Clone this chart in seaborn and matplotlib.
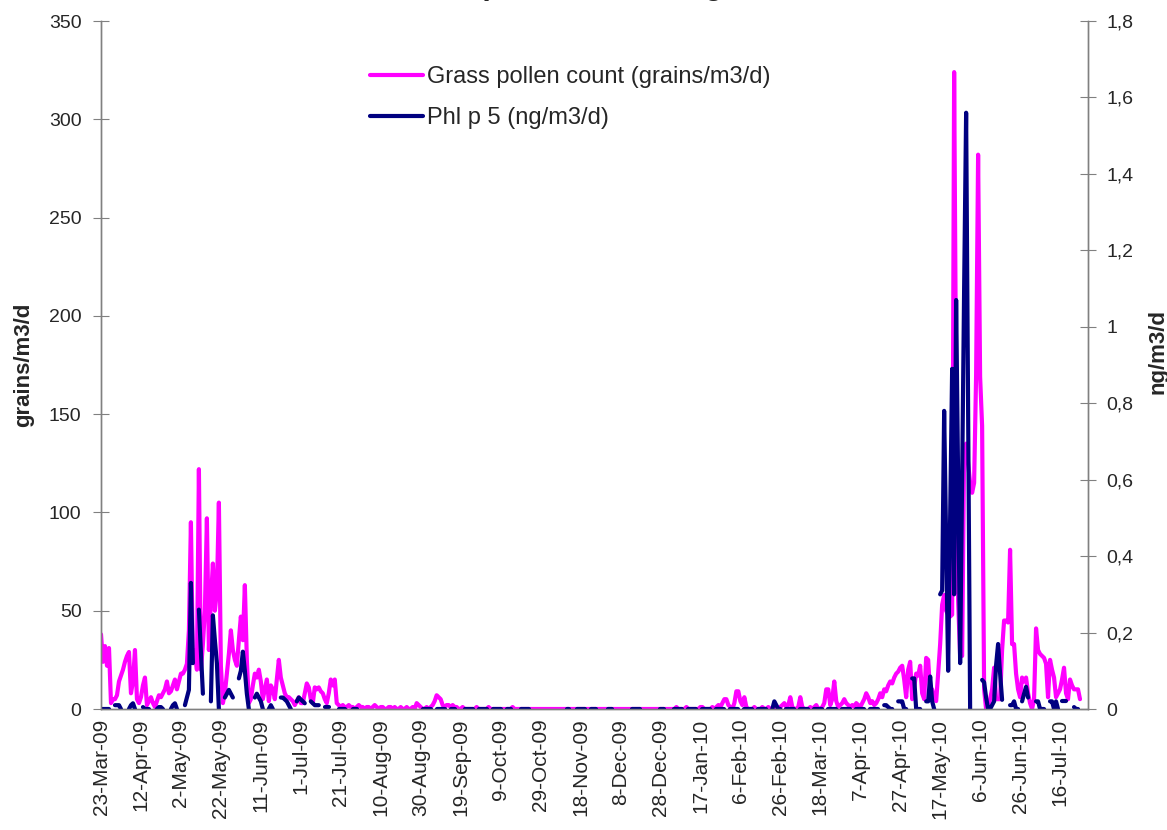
import numpy as np
import pandas as pd
import matplotlib
matplotlib.use("Agg")
import matplotlib.pyplot as plt
from matplotlib.lines import Line2D
import seaborn as sns

nan = np.nan

# daily series, first day 23-Mar-2009
start_date = "2009-03-23"

# grass pollen count (grains/m3/d), days 0-199
pollen_part1 = [
    38, 24, 32, 22, 31, 3, 5, 5, 7, 14,
    17, 20, 24, 27, 29, 8, 14, 30, 5, 3,
    6, 12, 16, 2, 4, 6, 3, 1, 4, 7,
    6, 8, 10, 14, 8, 9, 12, 15, 10, 14,
    18, 18, 20, 23, 40, 95, 24, 30, 20, 122,
    20, 33, 50, 97, 30, 55, 74, 50, 60, 105,
    22, 3, 8, 18, 28, 40, 30, 25, 22, 35,
    47, 35, 63, 25, 3, 5, 12, 18, 16, 20,
    14, 5, 10, 15, 4, 12, 10, 5, 15, 25,
    16, 12, 8, 6, 6, 5, 4, 2, 4, 6,
    3, 3, 8, 13, 11, 5, 3, 11, 10, 11,
    9, 8, 5, 3, 8, 15, 12, 15, 3, 2,
    1, 2, 1, 1, 2, 1, 1, 0, 1, 2,
    1, 1, 0, 1, 1, 0, 1, 2, 1, 0,
    1, 1, 0, 0, 1, 1, 0, 1, 0, 0,
    1, 0, 0, 1, 0, 0, 1, 0, 3, 2,
    1, 0, 0, 1, 0, 1, 2, 4, 7, 6,
    5, 2, 1, 2, 2, 1, 2, 1, 1, 0,
    0, 1, 0, 0, 0, 0, 0, 0, 1, 0,
    0, 0, 0, 0, 1, 0, 0, 0, 0, 0,
]

# grass pollen count (grains/m3/d), days 200-490
pollen_part2 = [
    0, 0, 0, 0, 0, 0, 1, 0, 0, 0,
    0, 0, 0, 0, 0, 0, 0, 0, 0, 0,
    0, 0, 0, 0, 0, 0, 0, 0, 0, 0,
    0, 0, 0, 0, 0, 0, 0, 0, 0, 0,
    0, 0, 0, 0, 0, 0, 0, 0, 0, 0,
    0, 0, 0, 0, 0, 0, 0, 0, 0, 0,
    0, 0, 0, 0, 0, 0, 0, 0, 0, 0,
    0, 0, 0, 0, 0, 0, 0, 0, 0, 0,
    0, 0, 0, 0, 0, 0, 0, 0, 1, 0,
    0, 0, 0, 1, 0, 0, 0, 0, 0, 0,
    1, 1, 0, 0, 0, 0, 1, 0, 1, 2,
    1, 3, 5, 5, 2, 1, 0, 3, 9, 9,
    4, 2, 6, 1, 0, 0, 0, 1, 0, 0,
    0, 1, 0, 0, 1, 0, 0, 0, 1, 0,
    1, 2, 3, 1, 2, 6, 1, 0, 0, 1,
    6, 1, 0, 0, 0, 1, 0, 1, 2, 0,
    0, 1, 3, 10, 10, 2, 5, 14, 4, 1,
    2, 3, 5, 3, 2, 1, 2, 1, 3, 2,
    1, 3, 5, 8, 6, 3, 4, 2, 3, 5,
    8, 6, 10, 9, 12, 14, 13, 16, 18, 19,
    21, 22, 15, 6, 20, 24, 5, 11, 18, 17,
    22, 8, 5, 26, 25, 8, 10, 6, 4, 18,
    33, 53, 58, 50, 48, 47, 48, 324, 160, 55,
    27, 27, 130, 135, 125, 115, 110, 115, 170, 282,
    169, 144, 10, 0, 0, 5, 10, 21, 5, 5,
    5, 30, 45, 45, 44, 81, 33, 33, 18, 10,
    6, 16, 14, 16, 8, 3, 0, 5, 41, 30,
    28, 27, 26, 23, 6, 25, 20, 16, 6, 8,
    10, 15, 21, 8, 5, 15, 12, 10, 10, 10,
    5,
]

# Phl p 5 (ng/m3/d), days 0-199, nan = not measured
phl_part1 = [
    0, 0, 0, 0, 0, nan, nan, 0.01, 0.01, 0.01,
    0.0, nan, nan, nan, 0.0, 0.01, 0.015, 0.0, nan, nan,
    nan, 0.005, 0.0, 0.0, 0.0, nan, nan, nan, 0.0, 0.005,
    0.005, 0.0, nan, nan, nan, 0.0, 0.01, 0.015, 0.0, nan,
    nan, nan, 0.01, 0.03, 0.05, 0.33, 0.12, nan, nan, 0.26,
    0.15, 0.04, nan, nan, nan, 0.02, 0.245, 0.18, 0.12, 0.0,
    nan, nan, 0.03, 0.04, 0.05, 0.04, 0.03, nan, nan, 0.08,
    0.10, 0.15, 0.10, 0.04, 0.0, nan, nan, 0.03, 0.04, 0.03,
    0.02, 0.0, nan, nan, 0.0, 0.01, 0.0, nan, nan, nan,
    0.03, 0.03, 0.025, 0.02, 0.01, 0.0, nan, nan, 0.02, 0.03,
    0.025, 0.02, 0.015, nan, nan, 0.02, 0.015, 0.01, 0.01, 0.01,
    nan, nan, 0.005, 0.005, 0.005, nan, nan, nan, nan, 0.0,
    0, 0, 0, nan, nan, nan, 0, 0, 0, nan,
    nan, nan, nan, nan, nan, nan, nan, nan, nan, nan,
    nan, nan, nan, nan, nan, nan, nan, nan, nan, nan,
    nan, nan, nan, nan, nan, nan, nan, nan, nan, nan,
    nan, 0, 0, 0, 0, 0, nan, nan, 0, 0,
    0, 0, 0, nan, nan, 0, 0, 0, nan, nan,
    nan, nan, 0, 0, 0, 0, 0, nan, nan, 0,
    0, 0, 0, 0, nan, nan, 0, 0, 0, 0,
]

# Phl p 5 (ng/m3/d), days 200-490
phl_part2 = [
    0, nan, nan, 0, 0, 0, nan, nan, nan, nan,
    0, 0, 0, 0, 0, nan, nan, nan, nan, nan,
    nan, nan, nan, nan, nan, nan, nan, nan, nan, nan,
    nan, nan, nan, 0, 0, nan, nan, nan, 0, 0,
    0, 0, 0, nan, nan, 0, 0, 0, 0, nan,
    nan, nan, nan, nan, 0, 0, 0, nan, nan, nan,
    nan, nan, nan, nan, nan, nan, 0, 0, 0, 0,
    0, nan, nan, nan, nan, nan, nan, nan, nan, nan,
    0, 0, 0, nan, nan, nan, nan, 0, 0, 0,
    0, 0, nan, nan, 0, 0, 0, 0, 0, nan,
    nan, 0, 0, 0, 0, 0, nan, nan, 0, 0,
    0, 0, 0, nan, nan, 0, 0, 0, 0, 0,
    nan, nan, 0, 0, 0, 0, 0, nan, nan, 0,
    0, 0, 0, 0, nan, nan, 0, 0.02, 0.01, 0,
    0, nan, nan, 0, 0, 0, 0, 0, nan, nan,
    0, 0, 0, 0, 0, nan, nan, 0, 0, 0,
    0, 0, nan, nan, 0, 0, 0, 0, 0, nan,
    nan, 0, 0, 0, 0, 0, nan, nan, 0, 0,
    0, 0, 0, nan, nan, 0, 0, 0, 0, 0,
    nan, nan, 0.01, 0.01, 0.005, 0.0, 0.0, nan, nan, 0.02,
    0.02, 0.02, 0.0, 0.0, nan, nan, 0.08, 0.08, 0.0, 0.0,
    0.0, nan, nan, 0.02, 0.02, 0.085, 0.02, 0.0, nan, nan,
    0.30, 0.31, 0.78, 0.44, 0.10, 0.50, 0.89, 0.30, 1.07, 0.60,
    0.12, 0.60, 1.10, 1.56, 0.78, 0.0, nan, nan, nan, nan,
    nan, 0.076, 0.07, 0.03, 0.0, 0.0, 0.01, 0.02, 0.115, 0.17,
    0.093, 0.024, nan, nan, nan, 0.01, 0.01, 0.02, 0.0, 0.0,
    nan, 0.02, 0.04, 0.058, 0.03, nan, nan, nan, 0.02, 0.02,
    0.0, 0.0, 0.0, nan, nan, 0.02, 0.02, 0.0, 0.02, 0.0,
    nan, 0.02, 0.02, 0.02, nan, nan, nan, 0.005, 0.0, 0.0,
    nan,
]

left_ticks = [0, 50, 100, 150, 200, 250, 300, 350]
right_ticks = [0, 0.2, 0.4, 0.6, 0.8, 1.0, 1.2, 1.4, 1.6, 1.8]
right_tick_labels = ["0", "0,2", "0,4", "0,6", "0,8", "1", "1,2", "1,4", "1,6", "1,8"]

title_text = "Grass, Phl p 5 and its allergen 2009-2010"
label_pollen = "Grass pollen count (grains/m3/d)"
label_phl = "Phl p 5 (ng/m3/d)"

pollen = pollen_part1 + pollen_part2
phl = phl_part1 + phl_part2

df = pd.DataFrame({
    "date": pd.date_range(start_date, periods=len(pollen), freq="D"),
    "pollen": pollen,
    "phl": phl,
})
# separate pieces of the Phl p 5 line where days are missing
df["seg"] = df["phl"].isna().cumsum()
phl_df = df.dropna(subset=["phl"])

sns.set_style("white")
plt.rcParams["font.family"] = ["Liberation Sans", "DejaVu Sans"]

fig = plt.figure(figsize=(11.67, 8.30), dpi=100)
ax = fig.add_subplot(111)
fig.subplots_adjust(left=101 / 1167, right=1088 / 1167, bottom=1 - 709 / 830, top=1 - 21 / 830)
ax2 = ax.twinx()

magenta = "#FF00FF"
navy = "#000080"
grey = "#808080"

sns.lineplot(data=df, x="date", y="pollen", ax=ax, color=magenta, linewidth=3,
             estimator=None, legend=False, solid_capstyle="round", solid_joinstyle="round")
sns.lineplot(data=phl_df, x="date", y="phl", units="seg", ax=ax2, color=navy, linewidth=3,
             estimator=None, legend=False, solid_capstyle="round", solid_joinstyle="round")

start = pd.Timestamp(start_date)
ax.set_xlim(start, start + pd.Timedelta(days=494))
xt = pd.date_range(start, periods=25, freq="20D")
ax.set_xticks(xt)
ax.set_xticklabels([f"{t.day}-{t.strftime('%b-%y')}" for t in xt], rotation=90, fontsize=15)
ax.tick_params(axis="x", length=0, pad=7)

ax.set_ylim(0, 350)
ax.set_yticks(left_ticks)
ax.set_yticklabels([str(v) for v in left_ticks], fontsize=14)
ax.tick_params(axis="y", direction="inout", length=12, color=grey, pad=8)

ax2.set_ylim(0, 1.8)
ax2.set_yticks(right_ticks)
ax2.set_yticklabels(right_tick_labels, fontsize=14)
ax2.tick_params(axis="y", direction="inout", length=12, color=grey, pad=7)

ax.set_xlabel("")
ax.set_ylabel("grains/m3/d", fontsize=16, fontweight="bold")
ax.yaxis.set_label_coords(-0.068, 0.5)
ax2.set_ylabel("ng/m3/d", fontsize=16, fontweight="bold")
ax2.yaxis.set_label_coords(1.06, 0.52)

for a in (ax, ax2):
    a.spines["top"].set_visible(False)
    for s in ("left", "right", "bottom"):
        a.spines[s].set_color(grey)
        a.spines[s].set_linewidth(1)
    a.grid(False)

handles = [Line2D([], [], color=magenta, lw=3), Line2D([], [], color=navy, lw=3)]
ax2.legend(handles, [label_pollen, label_phl], loc="upper left",
           bbox_to_anchor=(370 / 1167, 1 - 66 / 830), bbox_transform=fig.transFigure,
           frameon=False, fontsize=17, handlelength=2.25, handletextpad=0.15,
           labelspacing=0.82, borderaxespad=0, borderpad=0)

# title sits above the canvas, only its descenders show
fig.text(323 / 1167, 1 + 6 / 830, title_text, fontsize=22, fontweight="bold",
         ha="left", va="baseline")

fig.savefig("out.png", dpi=100)
